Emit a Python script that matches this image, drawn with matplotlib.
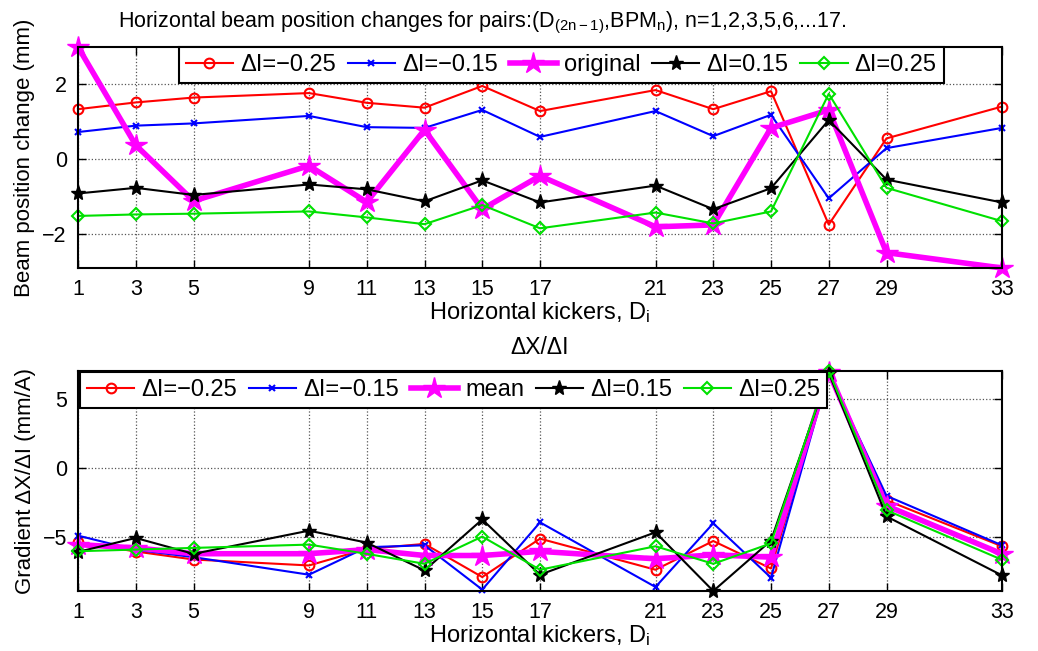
import numpy as np
import matplotlib
matplotlib.use("Agg")
import matplotlib.pyplot as plt

plt.rcParams['font.family'] = ['Liberation Sans', 'DejaVu Sans']
plt.rcParams['mathtext.fontset'] = 'custom'
plt.rcParams['mathtext.rm'] = 'Liberation Sans'
plt.rcParams['mathtext.it'] = 'Liberation Sans:italic'

# kicker indices
kickers = [1, 3, 5, 9, 11, 13, 15, 17, 21, 23, 25, 27, 29, 33]

# beam position change (mm)
pos_m025 = [1.34, 1.52, 1.65, 1.77, 1.51, 1.38, 1.96, 1.29, 1.85, 1.34, 1.82, -1.74, 0.56, 1.41]
pos_m015 = [0.73, 0.90, 0.96, 1.16, 0.86, 0.84, 1.32, 0.60, 1.29, 0.62, 1.19, -1.04, 0.30, 0.84]
pos_orig = [3.00, 0.38, -1.11, -0.17, -1.14, 0.79, -1.33, -0.44, -1.80, -1.75, 0.84, 1.32, -2.49, -2.90]
pos_p015 = [-0.91, -0.76, -0.95, -0.67, -0.80, -1.12, -0.56, -1.15, -0.70, -1.33, -0.77, 1.05, -0.54, -1.15]
pos_p025 = [-1.51, -1.47, -1.45, -1.39, -1.55, -1.73, -1.22, -1.84, -1.42, -1.71, -1.39, 1.75, -0.76, -1.65]

# gradient dX/dI (mm/A)
grad_m025 = [-5.37, -6.04, -6.62, -7.05, -5.85, -5.49, -7.89, -5.11, -7.36, -5.28, -7.27, 6.98, -2.33, -5.66]
grad_m015 = [-4.89, -5.92, -6.45, -7.72, -5.73, -5.59, -8.80, -3.93, -8.61, -4.00, -7.94, 6.86, -2.01, -5.59]
grad_mean = [-5.54, -5.78, -6.20, -6.20, -5.90, -6.33, -6.33, -6.03, -6.57, -6.28, -6.45, 6.95, -2.73, -6.21]
grad_p015 = [-6.07, -5.06, -6.21, -4.53, -5.40, -7.41, -3.72, -7.72, -4.65, -8.90, -5.25, 6.90, -3.50, -7.77]
grad_p025 = [-6.02, -5.90, -5.78, -5.54, -6.21, -6.93, -4.96, -7.36, -5.66, -6.93, -5.45, 7.03, -3.05, -6.64]

fig = plt.figure(figsize=(10.38, 6.51), dpi=100)
W, H = 1038.0, 651.0
ax1 = fig.add_axes([78/W, 1-268/H, 924/W, 221/H])
ax2 = fig.add_axes([78/W, 1-591/H, 924/W, 220/H])

legend_kw = dict(ncol=5, fontsize=17, frameon=True, fancybox=False,
                 edgecolor='black', framealpha=1, handlelength=2.0,
                 handletextpad=0.3, columnspacing=0.5, borderpad=0.3,
                 borderaxespad=0.0)


def style(ax):
    ax.set_xlim(1, 33)
    ax.set_xticks(kickers)
    ax.tick_params(direction='in', top=True, right=True, length=6, width=1,
                   labelsize=15.5, pad=8)
    ax.grid(True, linestyle=':', color='#555555', lw=0.9)
    for s in ax.spines.values():
        s.set_linewidth(1.5)
    ax.set_xlabel('Horizontal kickers, D$_\\mathrm{i}$', fontsize=17, labelpad=0)


def draw(ax, series, labels):
    # markers at the axes edges stay whole, as in matlab
    kw = dict(clip_on=False)
    ax.plot(kickers, series[0], 'r-o', mfc='none', mew=1.5, ms=7, lw=1.5, label=labels[0], **kw)
    ax.plot(kickers, series[1], 'b-x', mew=1.5, ms=5, lw=1.5, label=labels[1], **kw)
    ax.plot(kickers, series[2], '-*', color='magenta', lw=4, ms=16, label=labels[2], **kw)
    ax.plot(kickers, series[3], 'k-*', lw=1.5, ms=11, label=labels[3], **kw)
    ax.plot(kickers, series[4], '-D', color='#00e000', mfc='none', mew=1.5, ms=6,
            lw=1.5, label=labels[4], **kw)


draw(ax1, [pos_m025, pos_m015, pos_orig, pos_p015, pos_p025],
     ['ΔI=−0.25', 'ΔI=−0.15', 'original', 'ΔI=0.15', 'ΔI=0.25'])
ax1.set_ylim(min(pos_orig), max(pos_orig))
ax1.set_yticks([-2, 0, 2])
style(ax1)
ax1.set_ylabel('Beam position change (mm)', fontsize=16, labelpad=5)
ax1.set_title('Horizontal beam position changes for pairs:(D$_\\mathrm{(2n\u22121)}$,BPM$_\\mathrm{n}$), n=1,2,3,5,6,...17.',
              fontsize=15.5, pad=14, x=(482-78)/924.0)
leg1 = ax1.legend(loc='upper center', bbox_to_anchor=(0.523, 1.0), **legend_kw)
leg1.get_frame().set_linewidth(1.5)
leg1.set_zorder(5)

draw(ax2, [grad_m025, grad_m015, grad_mean, grad_p015, grad_p025],
     ['ΔI=−0.25', 'ΔI=−0.15', 'mean', 'ΔI=0.15', 'ΔI=0.25'])
ax2.set_ylim(min(grad_p015), max(grad_p025))
ax2.set_yticks([-5, 0, 5])
style(ax2)
ax2.set_ylabel('Gradient ΔX/ΔI (mm/A)', fontsize=16, labelpad=5)
ax2.set_title('ΔX/ΔI', fontsize=16.5, pad=12)
leg2 = ax2.legend(loc='upper left', bbox_to_anchor=(0.002, 0.995), **legend_kw)
leg2.get_frame().set_linewidth(1.5)
leg2.set_zorder(5)

fig.savefig('out.png', dpi=100)
